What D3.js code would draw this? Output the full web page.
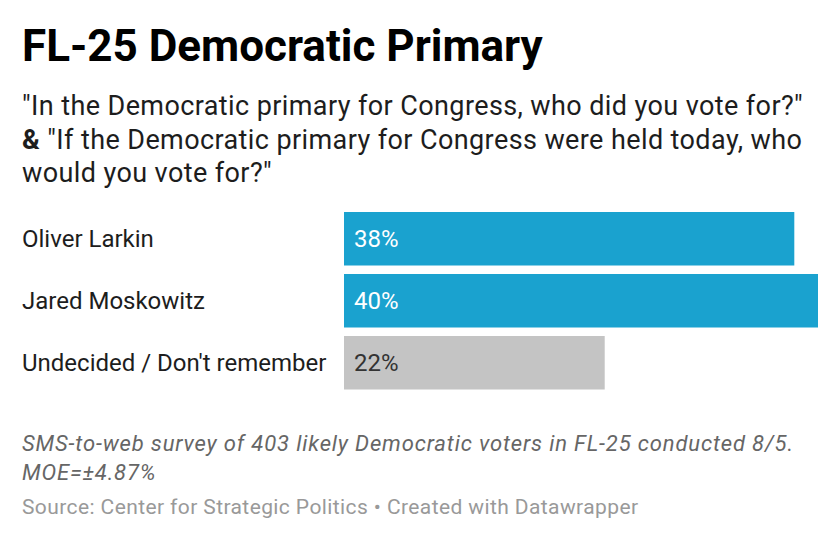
<!DOCTYPE html>
<html>
<head>
<meta charset="utf-8">
<script src="https://cdn.jsdelivr.net/npm/d3@7"></script>
<style>
  body { margin: 0; background: #fff; }
  svg { display: block; font-family: Roboto, sans-serif; }
</style>
</head>
<body>
<div id="chart"><svg></svg></div>
<script>
const categories = ["Oliver Larkin", "Jared Moskowitz", "Undecided / Don't remember"];
const values = [38, 40, 22];
const highlighted = ["Oliver Larkin", "Jared Moskowitz"];

const title = "FL-25 Democratic Primary";
const subtitleLines = [
  [{ t: "\"In the Democratic primary for Congress, who did you vote for?\"" }],
  [{ t: "&", b: true }, { t: " \"If the Democratic primary for Congress were held today, who" }],
  [{ t: "would you vote for?\"" }]
];
const notesLines = [
  "SMS-to-web survey of 403 likely Democratic voters in FL-25 conducted 8/5.",
  "MOE=±4.87%"
];
const source = "Source: Center for Strategic Politics • Created with Datawrapper";

document.addEventListener("DOMContentLoaded", function () {
  const width = 840, height = 542;
  const svg = d3.select("#chart svg")
    .attr("width", width)
    .attr("height", height);

  svg.append("text")
    .attr("x", 22)
    .attr("y", 61)
    .attr("font-size", 44)
    .attr("font-weight", 700)
    .attr("fill", "#000")
    .text(title);

  const sub = svg.append("g");
  subtitleLines.forEach((line, i) => {
    const t = sub.append("text")
      .attr("x", 22)
      .attr("y", 115 + i * 33.5)
      .attr("font-size", 27)
      .attr("letter-spacing", 0.4)
      .attr("fill", "#1d1d1d");
    line.forEach((part) => {
      t.append("tspan")
        .attr("font-weight", part.b ? 700 : 400)
        .text(part.t);
    });
  });

  const x = d3.scaleLinear().domain([0, d3.max(values)]).range([344, 818]);
  const y = d3.scaleBand()
    .domain(categories)
    .range([212, 389.5])
    .paddingInner(0.137)
    .paddingOuter(0);

  const color = (d) => (highlighted.includes(d) ? "#1aa2cf" : "#c4c4c4");

  const rows = svg.selectAll(".row")
    .data(categories.map((c, i) => ({ name: c, value: values[i] })))
    .enter()
    .append("g")
    .attr("class", "row");

  rows.append("rect")
    .attr("x", x(0))
    .attr("y", (d) => y(d.name))
    .attr("width", (d) => x(d.value) - x(0))
    .attr("height", y.bandwidth())
    .attr("fill", (d) => color(d.name));

  rows.append("text")
    .attr("x", 22)
    .attr("y", (d) => y(d.name) + y.bandwidth() / 2)
    .attr("dy", "0.35em")
    .attr("font-size", 24)
    .attr("fill", "#1d1d1d")
    .text((d) => d.name);

  rows.append("text")
    .attr("x", x(0) + 10)
    .attr("y", (d) => y(d.name) + y.bandwidth() / 2)
    .attr("dy", "0.35em")
    .attr("font-size", 24)
    .attr("fill", (d) => (highlighted.includes(d.name) ? "#fff" : "#333"))
    .text((d) => d.value + "%");

  notesLines.forEach((line, i) => {
    svg.append("text")
      .attr("x", 22)
      .attr("y", 451 + i * 28.5)
      .attr("font-size", 22)
      .attr("letter-spacing", 0.85)
      .attr("font-style", "italic")
      .attr("fill", "#666")
      .text(line);
  });

  svg.append("text")
    .attr("x", 22)
    .attr("y", 514)
    .attr("font-size", 21)
    .attr("letter-spacing", 0.4)
    .attr("fill", "#999")
    .text(source);
});
</script>
</body>
</html>
